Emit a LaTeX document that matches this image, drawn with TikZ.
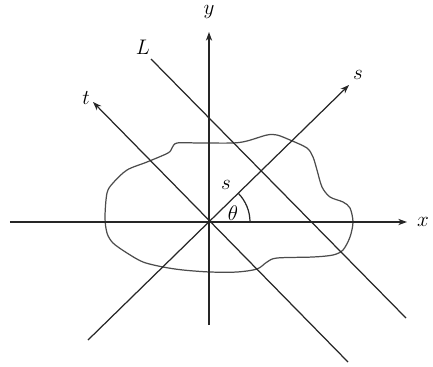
\documentclass[tikz,border=0pt]{standalone}
\usepackage{tikz}
\usetikzlibrary{arrows.meta,positioning,calc}

\begin{document}
\begin{tikzpicture}[
    x=0.02cm, y=0.02cm,
    font=\fontsize{12.5}{15}\selectfont,
    >={Stealth[length=5pt,width=3.6pt]},
    ax/.style={->, line width=0.7pt, draw=black!85},
    ln/.style={line width=0.7pt, draw=black!85},
    lbl/.style={inner sep=1pt},
  ]
  \useasboundingbox (-209,-144) rectangle (224,222);
  % end points
  \coordinate (O)  at (0,0);
  \coordinate (xl) at (-199,0);
  \coordinate (xr) at (198,0);
  \coordinate (yb) at (0,-103);
  \coordinate (yt) at (0,190);
  \coordinate (sb) at (-121,-118);
  \coordinate (st) at (140,137);
  \coordinate (tt) at (-116,120);
  \coordinate (tb) at (139,-140);
  \coordinate (Lt) at (-58,163);
  \coordinate (Lb) at (197,-96);
  % region
  \draw[ln, draw=black!70] plot[smooth cycle, tension=0.5] coordinates {
    (-32,79) (-9,79) (24,79) (38,81) (58,87) (68,87) (81,82) (98,74)
    (104,65) (108,52) (113,35) (121,25) (134,20) (141,14) (144,0)
    (141,-15) (134,-28) (124,-33) (104,-35) (68,-36) (58,-40) (48,-47)
    (28,-50) (1,-50) (-26,-48) (-46,-45) (-66,-40) (-82,-31) (-96,-21)
    (-102,-11) (-104,5) (-102,29) (-96,39) (-82,52) (-62,60) (-41,69)
    (-37,74)};
  % axes
  \draw[ax] (xl) -- (xr);
  \draw[ax] (yb) -- (yt);
  \draw[ax] (sb) -- (st);
  \draw[ax] (tb) -- (tt);
  \draw[ln] (Lt) -- (Lb);
  % angle
  \draw[ln] (41,0) arc[start angle=0, end angle=44, radius=41];
  % labels
  \node[lbl] (xlab) at (214,0)    {$x$};
  \node[lbl] (ylab) at (0,210)    {$y$};
  \node[lbl] (slab) at (149,147)  {$s$};
  \node[lbl] (tlab) at (-123,124) {$t$};
  \node[lbl] (Llab) at (-66,175)  {$L$};
  \node[lbl] (dist) at (17,37)    {$s$};
  \node[lbl] (ang)  at (24,9)     {$\theta$};
\end{tikzpicture}
\end{document}
